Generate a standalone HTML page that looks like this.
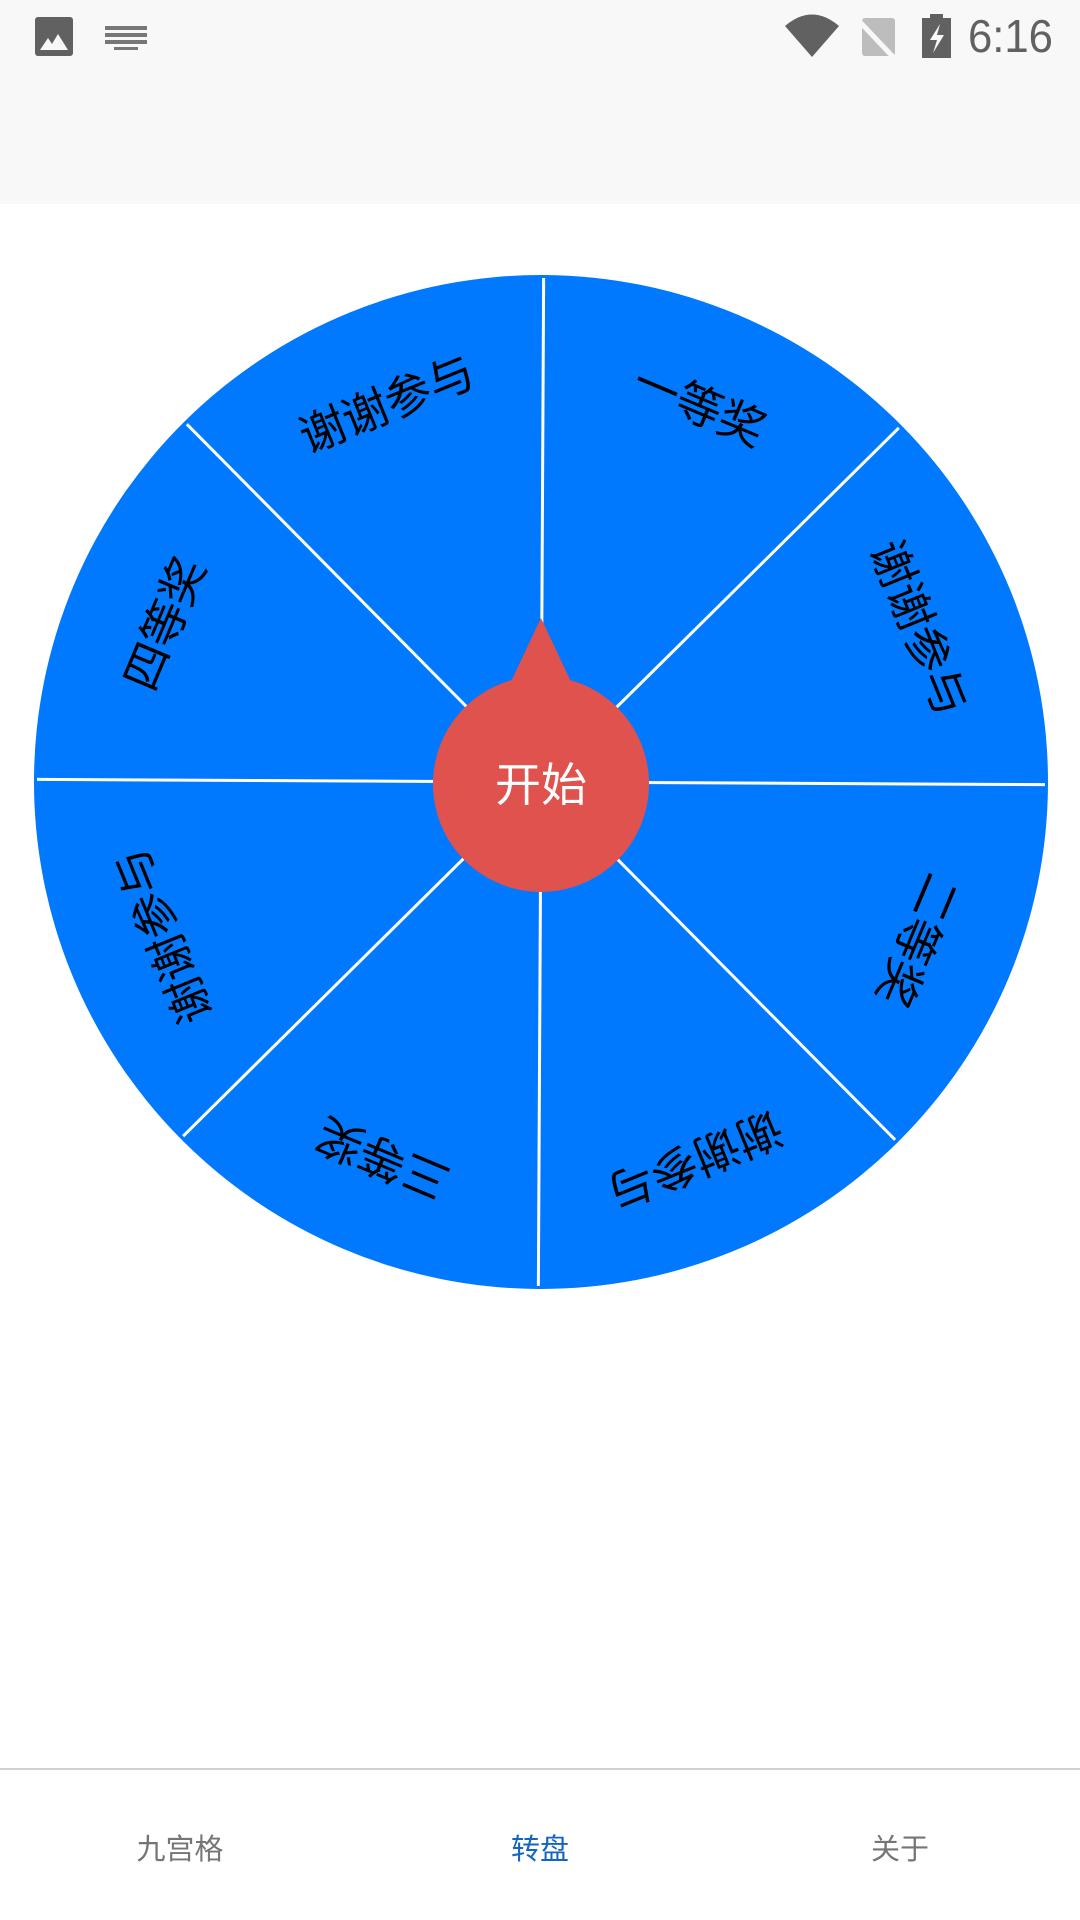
<!DOCTYPE html>
<html><head><meta charset="utf-8"><style>
html,body{margin:0;padding:0;width:1080px;height:1920px;background:#fff;overflow:hidden;font-family:"Liberation Sans","Noto Sans CJK SC",sans-serif;}
</style></head><body>
<svg width="1080" height="1920" viewBox="0 0 1080 1920" xmlns="http://www.w3.org/2000/svg" style="position:absolute;left:0;top:0">
<rect x="0" y="0" width="1080" height="204" fill="#f8f8f8"/>
<rect x="35" y="17" width="38" height="39" rx="3" fill="#616161"/>
<polygon points="40,50 48,38 52,44 58,34 68,50" fill="#f8f8f8"/>
<g fill="#777"><rect x="105" y="26" width="42" height="4"/><rect x="105" y="33" width="42" height="4"/><rect x="105" y="40" width="42" height="4"/><rect x="114" y="47" width="24" height="3"/></g>
<path d="M785,26 Q812,3 839,26 L812,57 Z" fill="#616161"/>
<rect x="862" y="18" width="33" height="38" rx="3" fill="#bdbdbd"/>
<line x1="858" y1="20" x2="896" y2="60" stroke="#f8f8f8" stroke-width="5"/>
<rect x="922" y="18" width="29" height="40" fill="#616161"/><rect x="930" y="14" width="13" height="5" fill="#616161"/>
<polygon points="940,24 930,40 937,40 933,53 944,35 937,35" fill="#f8f8f8"/>
<text x="1053" y="52" font-size="46" fill="#616161" text-anchor="end" font-family="Liberation Sans, sans-serif" transform="translate(1053 0) scale(0.95 1) translate(-1053 0)">6:16</text>
<g transform="rotate(0.3 541 782)">
<circle cx="541" cy="782" r="507" fill="#0079ff"/>
<g stroke="#fff" stroke-width="3">
<line x1="541" y1="278" x2="541" y2="1286"/>
<line x1="37" y1="782" x2="1045" y2="782"/>
<line x1="185" y1="426" x2="897" y2="1138"/>
<line x1="185" y1="1138" x2="897" y2="426"/>
</g>
<g font-size="46" fill="#000" text-anchor="middle" dominant-baseline="central" font-family="Liberation Sans, Noto Sans CJK SC, sans-serif">
<text x="541" y="374" transform="rotate(22.5 541 782)">一等奖</text>
<text x="541" y="374" transform="rotate(67.5 541 782)">谢谢参与</text>
<text x="541" y="374" transform="rotate(112.5 541 782)">二等奖</text>
<text x="541" y="374" transform="rotate(157.5 541 782)">谢谢参与</text>
<text x="541" y="374" transform="rotate(202.5 541 782)">三等奖</text>
<text x="541" y="374" transform="rotate(247.5 541 782)">谢谢参与</text>
<text x="541" y="374" transform="rotate(292.5 541 782)">四等奖</text>
<text x="541" y="374" transform="rotate(337.5 541 782)">谢谢参与</text>
</g>
</g>
<polygon points="541,618 508,688 574,688" fill="#df524d"/>
<circle cx="541" cy="784" r="108" fill="#df524d"/>
<text x="541" y="785" font-size="46" fill="#fff" text-anchor="middle" dominant-baseline="central" font-family="Liberation Sans, Noto Sans CJK SC, sans-serif">开始</text>
<rect x="0" y="1768" width="1080" height="2" fill="#d0d0d0"/>
<g font-size="29" text-anchor="middle" font-family="Liberation Sans, Noto Sans CJK SC, sans-serif">
<text x="180" y="1859" fill="#757575">九宫格</text>
<text x="540" y="1859" fill="#1565c0">转盘</text>
<text x="900" y="1859" fill="#757575">关于</text>
</g>
</svg>
</body></html>
